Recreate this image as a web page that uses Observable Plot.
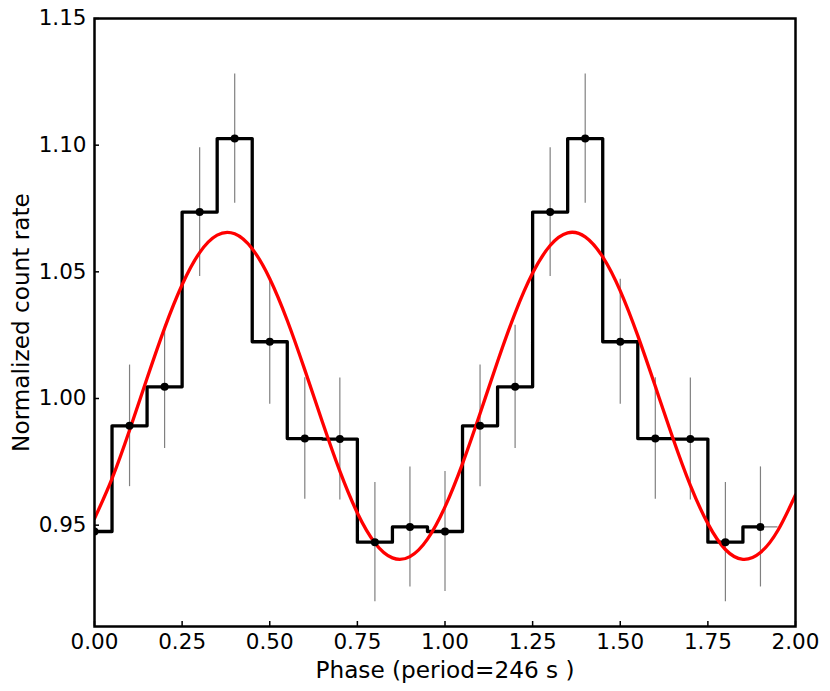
<!DOCTYPE html>
<html><head><meta charset="utf-8">
<script src="https://cdn.jsdelivr.net/npm/d3@7"></script>
<script src="https://cdn.jsdelivr.net/npm/@observablehq/plot@0.6"></script>
<style>body{margin:0;background:#fff}</style>
</head><body><div id="chart"></div>
<script>
// Folded light curve (two cycles shown)
const phase = [0.0,0.1,0.2,0.3,0.4,0.5,0.6,0.7,0.8,0.9,1.0,1.1,1.2,1.3,1.4,1.5,1.6,1.7,1.8,1.9];
const rate = [0.9475,0.9892,1.0046,1.0736,1.1026,1.0224,0.9842,0.9840,0.9433,0.9493,
              0.9475,0.9892,1.0046,1.0736,1.1026,1.0224,0.9842,0.9840,0.9433,0.9493];
const rateErr = [0.0237,0.0240,0.0243,0.0254,0.0255,0.0247,0.0240,0.0241,0.0235,0.0237,
                 0.0237,0.0240,0.0243,0.0254,0.0255,0.0247,0.0240,0.0241,0.0235,0.0237];
const binHalfWidth = 0.05;
// Sinusoidal fit, values every 0.05 in phase
const modelPhase = [0.00,0.05,0.10,0.15,0.20,0.25,0.30,0.35,0.40,0.45,0.50,0.55,0.60,0.65,0.70,0.75,0.80,0.85,0.90,0.95,
                    1.00,1.05,1.10,1.15,1.20,1.25,1.30,1.35,1.40,1.45,1.50,1.55,1.60,1.65,1.70,1.75,1.80,1.85,1.90,1.95,2.00];
const modelRate = [0.9526,0.9684,0.9875,1.0080,1.0278,1.0449,1.0576,1.0645,1.0650,1.0591,1.0473,1.0308,1.0113,0.9908,0.9713,0.9548,0.9430,0.9371,0.9376,0.9445,
                   0.9572,0.9743,0.9941,1.0146,1.0337,1.0495,1.0604,1.0654,1.0638,1.0559,1.0425,1.0248,1.0048,0.9844,0.9657,0.9506,0.9404,0.9365,0.9392,0.9480,0.9619];
const xTicks = [0,0.25,0.5,0.75,1.0,1.25,1.5,1.75,2.0];
const yTicks = [0.95,1.00,1.05,1.10,1.15];
const xLabel = "Phase (period=246 s )";
const yLabel = "Normalized count rate";

const pts = phase.map((x,i)=>({x, y: rate[i], e: rateErr[i]}));
const model = modelPhase.map((x,i)=>({x, y: modelRate[i]}));
const fmt = d3.format(".2f");

const chart = Plot.plot({
  width: 830, height: 691,
  marginLeft: 94, marginRight: 35, marginTop: 18, marginBottom: 65,
  style: {fontFamily: "DejaVu Sans", background: "white", color: "black"},
  x: {domain: [0, 2]},
  y: {domain: [0.91, 1.15]},
  marks: [
    Plot.ruleY(pts, {y: "y", x1: d => d.x - binHalfWidth, x2: d => d.x + binHalfWidth, stroke: "#808080", strokeWidth: 1.2, clip: true}),
    Plot.ruleX(pts, {x: "x", y1: d => d.y - d.e, y2: d => d.y + d.e, stroke: "#808080", strokeWidth: 1.2, clip: true}),
    Plot.line(pts, {x: "x", y: "y", curve: "step", stroke: "black", strokeWidth: 3.3, clip: true}),
    Plot.line(model, {x: "x", y: "y", curve: "natural", stroke: "#ff0000", strokeWidth: 3.3, clip: true}),
    Plot.dot(pts, {x: "x", y: "y", r: 4, fill: "black", clip: true}),
    Plot.axisX({ticks: xTicks, tickFormat: fmt, tickSize: -5, tickPadding: 12, fontSize: 21.5, label: null, strokeWidth: 1.5}),
    Plot.axisY({ticks: yTicks, tickFormat: fmt, tickSize: -5, tickPadding: 13, fontSize: 21.5, label: null, strokeWidth: 1.5}),
    Plot.frame({stroke: "black", strokeWidth: 2.5}),
    Plot.text([xLabel], {text: d => d, frameAnchor: "bottom", dy: 44, fontSize: 23.2, lineAnchor: "middle", textAnchor: "middle", fill: "black"}),
    Plot.text([yLabel], {text: d => d, frameAnchor: "left", dx: -73, rotate: -90, fontSize: 23.2, lineAnchor: "middle", textAnchor: "middle", fill: "black"})
  ]
});
document.getElementById("chart").appendChild(chart);
</script>
</body></html>
